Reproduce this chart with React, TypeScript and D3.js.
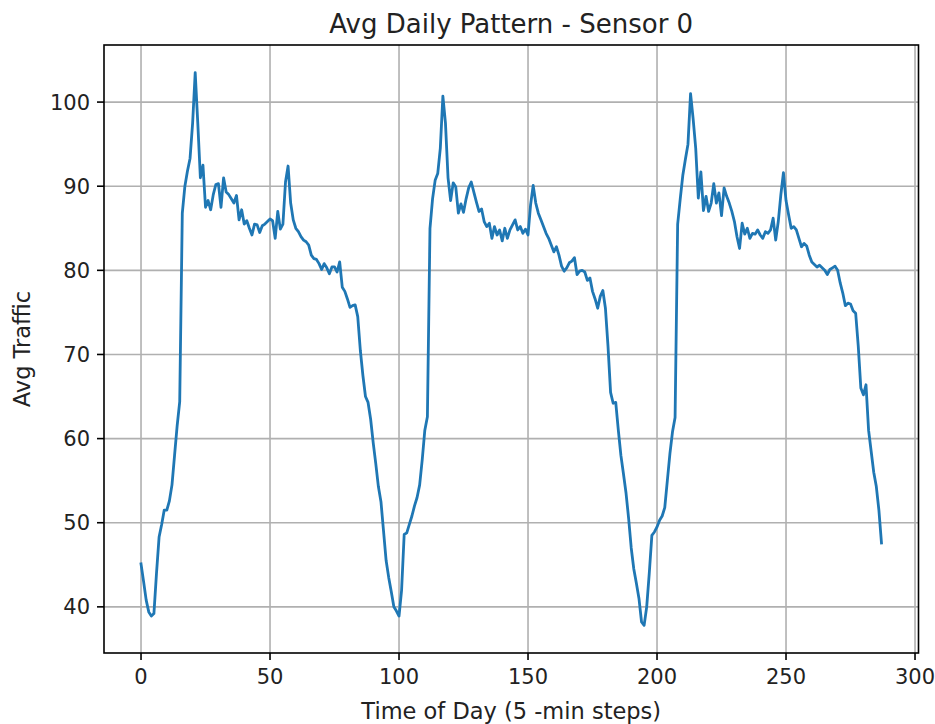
import React from 'react';
import * as d3 from 'd3';

// avg traffic per time step
const avgTraffic: number[] = [
  45.1, 43.0, 40.8, 39.4, 38.9, 39.2, 44.0, 48.3, 49.8, 51.5, 51.5, 52.6,
  54.5, 58.0, 61.5, 64.4, 86.8, 90.0, 91.8, 93.3, 97.5, 103.5, 97.5, 91.0,
  92.5, 87.5, 88.3, 87.2, 89.0, 90.2, 90.3, 87.5, 91.0, 89.3, 89.0, 88.5,
  88.0, 88.9, 86.0, 87.2, 85.5, 85.9, 85.0, 84.2, 85.5, 85.4, 84.5, 85.3,
  85.5, 85.8, 86.1, 85.9, 83.8, 87.0, 84.9, 85.5, 90.5, 92.4, 88.0, 86.0,
  85.0, 84.6, 84.0, 83.6, 83.4, 83.0, 81.8, 81.4, 81.3, 80.8, 80.1, 80.8,
  80.3, 79.6, 80.4, 80.4, 79.8, 81.0, 78.0, 77.5, 76.6, 75.6, 75.8, 75.9,
  74.5, 70.5, 67.5, 65.0, 64.3, 62.3, 59.5, 57.0, 54.3, 52.5, 49.0, 45.5,
  43.5, 41.8, 40.0, 39.5, 38.9, 42.0, 48.6, 48.8, 49.8, 50.8, 52.0, 53.0,
  54.5, 57.5, 61.0, 62.6, 85.0, 88.5, 90.7, 91.5, 94.5, 100.7, 97.5, 91.0,
  88.3, 90.4, 89.9, 86.8, 87.9, 86.9, 88.5, 89.8, 90.5, 89.3, 88.1, 87.0,
  87.3, 85.8, 85.2, 85.6, 83.8, 85.2, 84.2, 84.8, 83.5, 85.0, 83.8, 84.8,
  85.4, 86.0, 84.8, 85.2, 84.4, 84.9, 84.2, 87.8, 90.1, 88.0, 86.8, 86.0,
  85.2, 84.4, 83.8, 83.0, 82.2, 82.8, 81.8, 80.5, 79.9, 80.3, 80.9, 81.1,
  81.5, 79.5, 79.9, 80.0, 79.8, 78.8, 79.1, 77.5, 76.6, 75.5, 76.9, 77.6,
  75.5, 71.0, 65.5, 64.2, 64.3, 61.0, 58.0, 55.8, 53.5, 50.5, 47.0, 44.5,
  42.8, 41.0, 38.2, 37.8, 40.0, 44.0, 48.5, 48.9, 49.5, 50.3, 50.8, 51.8,
  55.0, 58.2, 60.8, 62.5, 85.5, 88.5, 91.3, 93.2, 95.0, 101.0, 98.0, 94.5,
  88.6, 91.7, 87.1, 88.8, 87.0, 88.0, 90.3, 88.0, 89.2, 86.5, 89.8, 88.8,
  88.0, 87.0, 85.8, 84.0, 82.6, 85.6, 84.3, 85.0, 83.8, 84.4, 84.3, 84.8,
  84.2, 83.8, 84.6, 84.4, 84.8, 86.2, 83.6, 85.8, 89.0, 91.6, 88.3, 86.6,
  85.0, 85.2, 84.8, 83.8, 82.8, 83.2, 82.9, 81.8, 81.0, 80.7, 80.4, 80.6,
  80.3, 80.0, 79.5, 80.1, 80.3, 80.5, 80.0, 78.5, 77.3, 75.8, 76.1, 76.0,
  75.2, 74.9, 71.0, 66.0, 65.2, 66.4, 61.0, 58.5, 56.0, 54.3, 51.5, 47.6,
];

const xTicks = [0, 50, 100, 150, 200, 250, 300];
const yTicks = [40, 50, 60, 70, 80, 90, 100];

const title = 'Avg Daily Pattern - Sensor 0';
const xLabel = 'Time of Day (5 -min steps)';
const yLabel = 'Avg Traffic';

const W = 935;
const H = 724;
const plot = { left: 104, right: 918.5, top: 45, bottom: 653 };
const font = '"DejaVu Sans", sans-serif';
const tickLen = 7;

const App: React.FC = () => {
  // matplotlib style 5% margins
  const n = avgTraffic.length;
  const xPad = (n - 1) * 0.05;
  const [yMin, yMax] = d3.extent(avgTraffic) as [number, number];
  const yPad = (yMax - yMin) * 0.05;

  const x = d3.scaleLinear()
    .domain([-xPad, n - 1 + xPad])
    .range([plot.left, plot.right]);

  const y = d3.scaleLinear()
    .domain([yMin - yPad, yMax + yPad])
    .range([plot.bottom, plot.top]);

  const line = d3.line<number>()
    .x((_, i) => x(i))
    .y(d => y(d));

  return (
    <svg width={W} height={H} style={{ position: 'absolute', left: 0, top: 0, background: '#fff' }}>
      <rect x={0} y={0} width={W} height={H} fill="#fff" />

      {/* grid */}
      <g stroke="#b0b0b0" strokeWidth={1.6}>
        {xTicks.map(t => (
          <line key={'gx' + t} x1={x(t)} x2={x(t)} y1={plot.top} y2={plot.bottom} />
        ))}
        {yTicks.map(t => (
          <line key={'gy' + t} x1={plot.left} x2={plot.right} y1={y(t)} y2={y(t)} />
        ))}
      </g>

      <path d={line(avgTraffic) ?? ''} fill="none" stroke="#1f77b4" strokeWidth={2.8}
        strokeLinejoin="round" strokeLinecap="square" />

      {/* spines */}
      <rect x={plot.left} y={plot.top} width={plot.right - plot.left} height={plot.bottom - plot.top}
        fill="none" stroke="#000" strokeWidth={1.6} />

      <g fontFamily={font} fontSize={21} fill="#222">
        {xTicks.map(t => (
          <g key={'tx' + t}>
            <line x1={x(t)} x2={x(t)} y1={plot.bottom} y2={plot.bottom + tickLen} stroke="#000" strokeWidth={1.6} />
            <text x={x(t)} y={684} textAnchor="middle">{t}</text>
          </g>
        ))}
        {yTicks.map(t => (
          <g key={'ty' + t}>
            <line x1={plot.left - tickLen} x2={plot.left} y1={y(t)} y2={y(t)} stroke="#000" strokeWidth={1.6} />
            <text x={plot.left - 2 * tickLen} y={y(t)} dy="0.36em" textAnchor="end">{t}</text>
          </g>
        ))}
      </g>

      <g fontFamily={font} fontSize={22.5} fill="#222">
        <text x={(plot.left + plot.right) / 2} y={719} textAnchor="middle">{xLabel}</text>
        <text transform={`translate(30,${(plot.top + plot.bottom) / 2}) rotate(-90)`} textAnchor="middle">{yLabel}</text>
      </g>

      <text x={(plot.left + plot.right) / 2} y={33} textAnchor="middle" fontFamily={font} fontSize={26} fill="#222">
        {title}
      </text>
    </svg>
  );
};

export default App;
